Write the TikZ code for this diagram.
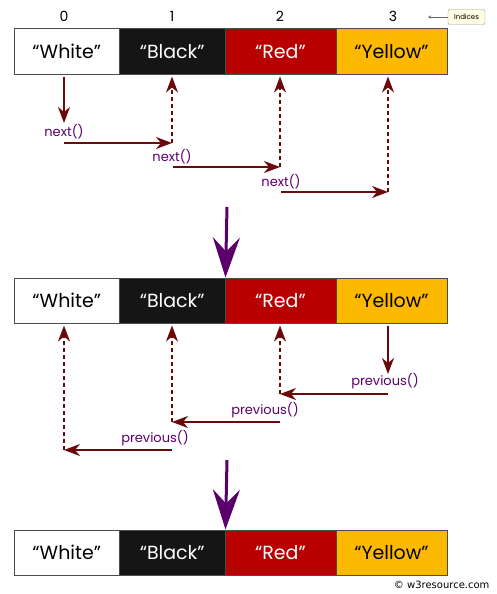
\documentclass[tikz,border=0pt]{standalone}
\usepackage{fontspec}
\setmainfont{Poppins}
\newfontfamily\markfont{DejaVu Sans}
\usepackage{tikz}
\usetikzlibrary{arrows.meta}

\definecolor{maroon}{HTML}{6B0A0A}
\definecolor{plum}{HTML}{5B006B}
\definecolor{cellred}{HTML}{B80000}
\definecolor{cellblack}{HTML}{151515}
\definecolor{cellyellow}{HTML}{FDB900}
\definecolor{tagfill}{HTML}{FFFDE3}

\begin{document}
\begin{tikzpicture}[x=1pt, y=-1pt,
        cell/.style={draw=black!70, line width=1pt, minimum height=45pt, inner sep=0pt, font=\fontsize{19}{19}\selectfont},
        narrow/.style={cell, minimum width=105.5pt},
        wide/.style={cell, minimum width=111pt},
        lbl/.style={text=plum, font=\fontsize{13}{13}\selectfont, inner sep=0pt},
        arr/.style={draw=maroon, line width=1.6pt, -{Stealth[length=16pt, width=12pt, inset=5pt]}},
        dotarr/.style={arr, dash pattern=on 4pt off 3pt},
        bigarr/.style={draw=plum, line width=3pt, -{Stealth[length=40pt, width=27pt, inset=14pt]}}]
        \useasboundingbox (0,0) rectangle (497,594);

        % Indices
        \node[font=\fontsize{14}{14}\selectfont] (i0) at (64,16) {0};
        \node[font=\fontsize{14}{14}\selectfont] (i1) at (172,16) {1};
        \node[font=\fontsize{14}{14}\selectfont] (i2) at (280,16) {2};
        \node[font=\fontsize{14}{14}\selectfont] (i3) at (393,16) {3};
        \node[draw=black!40, fill=tagfill, rounded corners=2pt, font=\fontsize{7}{7}\selectfont, minimum width=37pt, minimum height=15pt, inner sep=1pt] (tag) at (466.5,17) {Indices};
        \coordinate (tagend) at (428,17);
        \draw[black!60, line width=0.6pt, -{Stealth[length=3pt, width=3pt]}] (tag) -- (tagend);

        % First array
        \node[narrow, fill=white] (a1) at (66.75,51.5) {“White”};
        \node[narrow, fill=cellblack, text=white] (a2) at (172.25,51.5) {“Black”};
        \node[wide, fill=cellred, text=white] (a3) at (280.5,51.5) {“Red”};
        \node[wide, fill=cellyellow] (a4) at (391.5,51.5) {“Yellow”};

        % Second array
        \node[narrow, fill=white] (b1) at (66.75,300.5) {“White”};
        \node[narrow, fill=cellblack, text=white] (b2) at (172.25,300.5) {“Black”};
        \node[wide, fill=cellred, text=white] (b3) at (280.5,300.5) {“Red”};
        \node[wide, fill=cellyellow] (b4) at (391.5,300.5) {“Yellow”};

        % Third array
        \node[narrow, fill=white] (c1) at (66.75,552.5) {“White”};
        \node[narrow, fill=cellblack, text=white] (c2) at (172.25,552.5) {“Black”};
        \node[wide, fill=cellred, text=white] (c3) at (280.5,552.5) {“Red”};
        \node[wide, fill=cellyellow] (c4) at (391.5,552.5) {“Yellow”};

        % next() steps
        \coordinate (d1) at (64,123);
        \coordinate (n1) at (64,143);
        \coordinate (n2) at (172,143);
        \coordinate (n3) at (173,167);
        \coordinate (n4) at (280,167);
        \coordinate (n5) at (281,192);
        \coordinate (n6) at (388,192);
        \node[lbl] (nx1) at (64,132) {next()};
        \node[lbl] (nx2) at (172,157) {next()};
        \node[lbl] (nx3) at (281,182) {next()};
        \draw[arr, shorten <=2pt] (a1.south -| d1) -- (d1);
        \draw[arr] (n1) -- (n2);
        \draw[arr] (n3) -- (n4);
        \draw[arr] (n5) -- (n6);
        \draw[dotarr, shorten >=2pt] (n2) -- (a2.south -| n2);
        \draw[dotarr, shorten >=2pt] (n4) -- (a3.south -| n4);
        \draw[dotarr, shorten >=2pt] (n6) -- (a4.south -| n6);

        % previous() steps
        \coordinate (d4) at (388,374);
        \coordinate (p1) at (388,394);
        \coordinate (p2) at (280,394);
        \coordinate (p3) at (280,422);
        \coordinate (p4) at (172,422);
        \coordinate (p5) at (172,450);
        \coordinate (p6) at (64,450);
        \node[lbl] (pv1) at (385,381) {previous()};
        \node[lbl] (pv2) at (265,410) {previous()};
        \node[lbl] (pv3) at (155,438) {previous()};
        \draw[arr, shorten <=2pt] (b4.south -| d4) -- (d4);
        \draw[arr] (p1) -- (p2);
        \draw[arr] (p3) -- (p4);
        \draw[arr] (p5) -- (p6);
        \draw[dotarr, shorten >=2pt] (p2) -- (b3.south -| p2);
        \draw[dotarr, shorten >=2pt] (p4) -- (b2.south -| p4);
        \draw[dotarr, shorten >=2pt] (p6) -- (b1.south -| p6);

        % Between arrays
        \coordinate (t1) at (227,207);
        \coordinate (t2) at (227,460);
        \draw[bigarr] (t1) -- (a2.south east |- b2.north);
        \draw[bigarr] (t2) -- (b2.south east |- c2.north);

        % Credit
        \node[font=\markfont\fontsize{10}{10}\selectfont, anchor=east] (credit) at (493,585) {© w3resource.com};
\end{tikzpicture}
\end{document}
